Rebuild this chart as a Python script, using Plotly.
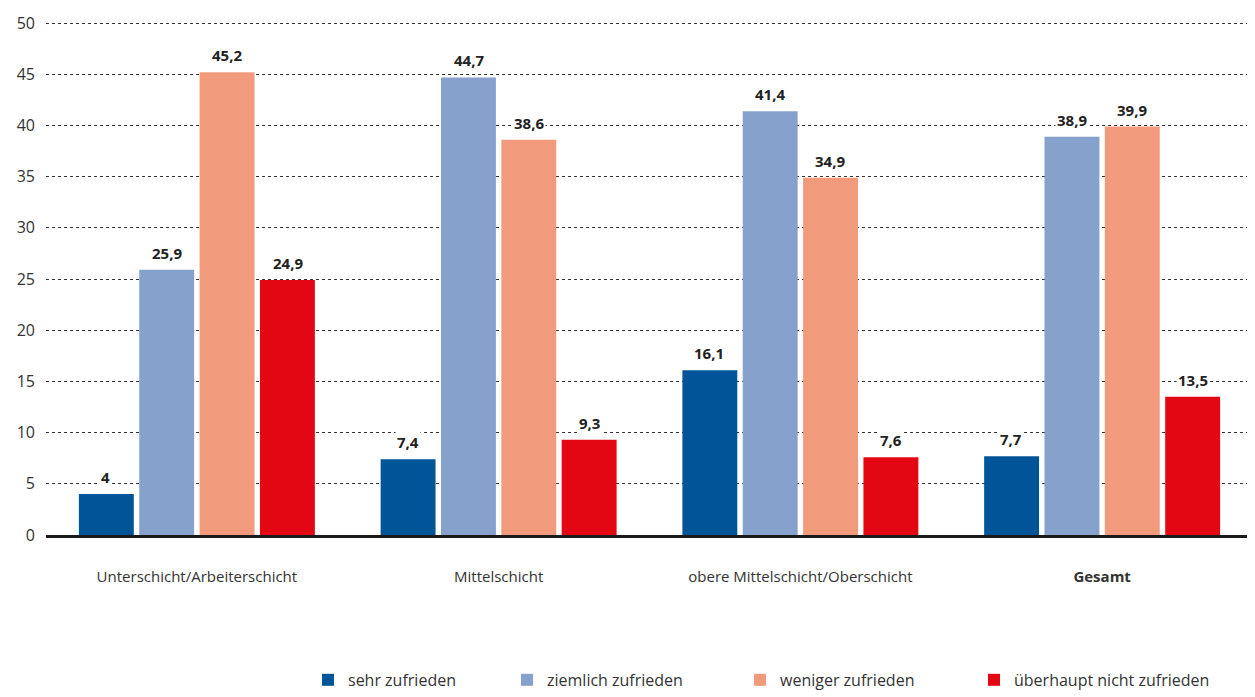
import plotly.graph_objects as go

categories = [
    "Unterschicht/Arbeiterschicht",
    "Mittelschicht",
    "obere Mittelschicht/Oberschicht",
    "<b>Gesamt</b>",
]
series_names = [
    "sehr zufrieden",
    "ziemlich zufrieden",
    "weniger zufrieden",
    "überhaupt nicht zufrieden",
]
sehr = [4, 7.4, 16.1, 7.7]
ziemlich = [25.9, 44.7, 41.4, 38.9]
weniger = [45.2, 38.6, 34.9, 39.9]
ueberhaupt = [24.9, 9.3, 7.6, 13.5]
y_ticks = [0, 5, 10, 15, 20, 25, 30, 35, 40, 45, 50]

colors = ["#005598", "#86a1cc", "#f29b7c", "#e30613"]
FONT = "Open Sans"

# one legend per series so each entry can sit where the original puts it
legend_left = [300, 499, 732, 966]

fig = go.Figure()
all_series = [sehr, ziemlich, weniger, ueberhaupt]
shifts = [-91, -30, 30, 91]
for i, (name, vals, col, dx) in enumerate(zip(series_names, all_series, colors, shifts)):
    lg = "legend" if i == 0 else f"legend{i + 1}"
    fig.add_trace(go.Bar(x=categories, y=vals, name=name, marker_color=col,
                         marker_line_width=0, legend=lg))
    for c, v in zip(categories, vals):
        fig.add_annotation(
            x=c, y=v, xshift=dx, yshift=17, yanchor="middle",
            text=f"<b>{str(v).replace('.', ',')}</b>", showarrow=False,
            bgcolor="white", borderpad=1,
            font=dict(family=FONT, size=15, color="#222"),
        )

legend_style = dict(
    orientation="h", xref="container", yref="container", xanchor="left",
    y=0.036, yanchor="middle", itemwidth=30, bgcolor="rgba(0,0,0,0)",
    font=dict(family=FONT, size=16, color="#333"),
)
legends = {}
for i, x0 in enumerate(legend_left):
    key = "legend" if i == 0 else f"legend{i + 1}"
    legends[key] = dict(legend_style, x=x0 / 1255)

fig.update_layout(
    barmode="group",
    bargap=0.2,
    bargroupgap=0.09,
    width=1255,
    height=697,
    margin=dict(l=38, r=10, t=10, b=170, autoexpand=False),
    plot_bgcolor="white",
    paper_bgcolor="white",
    font=dict(family=FONT, size=15, color="#333"),
    showlegend=True,
    yaxis=dict(
        range=[0, 50.5], tickvals=y_ticks, showgrid=True,
        gridcolor="#333", griddash="dot", gridwidth=1,
        zeroline=False, ticks="", ticklabelstandoff=10,
        tickfont=dict(family=FONT, size=16, color="#333"),
    ),
    xaxis=dict(
        showline=True, linecolor="#1a1a1a", linewidth=3, ticks="",
        tickfont=dict(family=FONT, size=15, color="#333"),
        ticklabelstandoff=26,
    ),
    **legends,
)

fig.write_html("out.html")
